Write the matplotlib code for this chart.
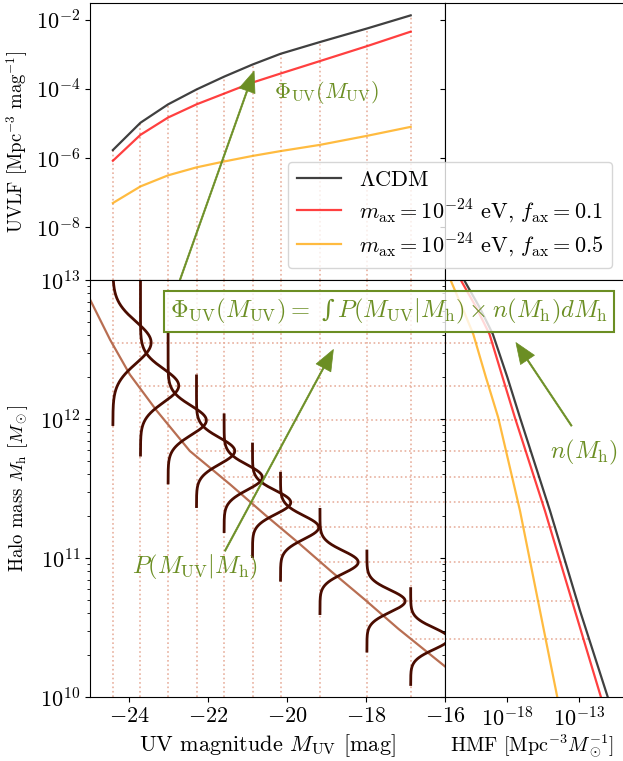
import numpy as np
import matplotlib.pyplot as plt
from matplotlib.ticker import FuncFormatter, NullLocator

plt.rcParams['font.family'] = ['cmr10', 'DejaVu Serif']
plt.rcParams['mathtext.fontset'] = 'cm'
plt.rcParams['axes.formatter.use_mathtext'] = True
plt.rcParams['font.size'] = 16

# UV magnitudes where the UVLF is evaluated (also the stems of P(M_UV|M_h))
muv_bins = [-24.42, -23.72, -23.02, -22.30, -21.60, -20.88, -20.17, -19.17, -17.98, -16.87]
# log10 UVLF [Mpc^-3 mag^-1]
log_uvlf_lcdm = [-5.77, -4.98, -4.45, -4.02, -3.65, -3.30, -2.99, -2.65, -2.26, -1.88]
log_uvlf_f01 = [-6.08, -5.33, -4.83, -4.45, -4.14, -3.82, -3.56, -3.20, -2.77, -2.35]
log_uvlf_f05 = [-7.30, -6.82, -6.50, -6.27, -6.10, -5.94, -5.80, -5.62, -5.36, -5.10]

# median M_UV - M_h relation
muv_med = [-25.0, -24.49, -23.99, -23.31, -22.47, -21.45, -20.56, -19.72, -18.87, -18.03, -17.18, -16.0]
logmh_med = [12.86, 12.57, 12.32, 12.06, 11.77, 11.53, 11.31, 11.11, 10.90, 10.70, 10.49, 10.22]

# P(M_UV|M_h) curves: peak halo mass, width (dex), extent
logmh_peak = [12.55, 12.24, 11.99, 11.77, 11.58, 11.40, 11.22, 10.97, 10.69, 10.42]
logmh_width = [0.15, 0.12, 0.105, 0.095, 0.09, 0.085, 0.085, 0.082, 0.08, 0.078]
logmh_hi = [13.2, 13.05, 12.61, 12.31, 12.03, 11.82, 11.61, 11.35, 11.05, 10.78]
logmh_lo = [11.96, 11.74, 11.54, 11.37, 11.19, 11.01, 10.84, 10.60, 10.33, 10.09]
gauss_amp = 0.97

# halo mass function
logmh_hmf = [13.01, 12.80, 12.61, 12.30, 12.01, 11.34, 10.62, 10.00]
log_hmf_lcdm = [-20.99, -19.85, -18.95, -17.95, -17.08, -15.01, -12.94, -11.03]
log_hmf_f01 = [-21.22, -20.08, -19.18, -18.28, -17.43, -15.36, -13.29, -11.50]
log_hmf_f05 = [-21.91, -21.05, -20.30, -19.43, -18.58, -17.08, -15.70, -14.51]
# where the dotted mass lines stop in the HMF panel
log_hmf_end = [-18.9, -17.9, -17.0, -16.3, -15.7, -15.1, -14.6, -13.9, -13.1, -12.4]

labels = [r'$\Lambda$CDM',
          r'$m_{\rm ax}=10^{-24}$ eV, $f_{\rm ax}=0.1$',
          r'$m_{\rm ax}=10^{-24}$ eV, $f_{\rm ax}=0.5$']
colors = ['k', 'r', 'orange']
green = 'olivedrab'
dotc = '#e8b09e'
arrow = dict(color=green, width=1.0, headwidth=12, headlength=15, lw=0.5)

fig = plt.figure(figsize=(6.23, 7.61), dpi=100)
gs = fig.add_gridspec(2, 2, width_ratios=[355, 180], height_ratios=[277, 417],
                      left=90/623, right=625/623, top=1-3/761, bottom=1-697/761,
                      hspace=0, wspace=0)
ax_uv = fig.add_subplot(gs[0, 0])
ax_tr = fig.add_subplot(gs[0, 1], sharey=ax_uv)
ax_mh = fig.add_subplot(gs[1, 0], sharex=ax_uv)
ax_hmf = fig.add_subplot(gs[1, 1], sharey=ax_mh, sharex=ax_tr)

muv = np.array(muv_bins)

# top: UVLF
for vals, c, lab in zip([log_uvlf_lcdm, log_uvlf_f01, log_uvlf_f05], colors, labels):
    ax_uv.plot(muv, 10**np.array(vals), color=c, alpha=0.75, lw=1.6, label=lab)
ax_uv.vlines(muv, 3e-10, 10**np.array(log_uvlf_lcdm), color=dotc, ls=':', lw=1.2, zorder=0)
ax_uv.set_yscale('log')
ax_uv.set_ylim(3e-10, 3e-2)
ax_uv.set_yticks([1e-8, 1e-6, 1e-4, 1e-2])
ax_uv.yaxis.set_minor_locator(NullLocator())
ax_uv.set_ylabel(r'UVLF [Mpc$^{-3}$ mag$^{-1}$]', fontsize=13.5)
ax_uv.tick_params(labelbottom=False)
ax_tr.tick_params(labelleft=False, labelbottom=False)

ax_uv.annotate('', xy=(-20.84, 10**-3.49), xytext=(-22.72, 3e-10),
               arrowprops=arrow, annotation_clip=False)
ax_uv.text(-18.99, 10**-4.1, r'$\Phi_{\rm UV}(M_{\rm UV})$', color=green,
           ha='center', va='center')

# bottom left: halo mass vs M_UV
for m in muv:
    ax_mh.axvline(m, color=dotc, ls=':', lw=1.2, zorder=0)
ax_mh.hlines(10**np.array(logmh_peak), muv, -16, color=dotc, ls=':', lw=1.2, zorder=0)
ax_mh.plot(muv_med, 10**np.array(logmh_med), color='#b86e52', lw=1.6)
for m, pk, w, hi, lo in zip(muv, logmh_peak, logmh_width, logmh_hi, logmh_lo):
    y = np.linspace(lo, hi, 400)
    x = m + gauss_amp * np.exp(-0.5 * ((y - pk) / w)**2)
    ax_mh.plot(x, 10**y, color='#4a0c00', lw=2)
ax_mh.set_yscale('log')
ax_mh.set_ylim(1e10, 1e13)
ax_mh.set_xlim(-25, -16)
ax_mh.set_xticks([-24, -22, -20, -18, -16])
ax_mh.xaxis.set_major_formatter(FuncFormatter(lambda v, p: r'$%d$' % v))
ax_mh.set_xlabel(r'UV magnitude $M_{\rm UV}$ [mag]')
ax_mh.set_ylabel(r'Halo mass $M_{\rm h}$ [$M_\odot$]', fontsize=13.5)

ax_mh.annotate('', xy=(-18.83, 10**12.50), xytext=(-21.58, 10**11.05), arrowprops=arrow)
ax_mh.text(-22.34, 10**10.93, r'$P(M_{\rm UV}|M_{\rm h})$', color=green,
           ha='center', va='center', fontsize=17.5)
box_text = (r'$\Phi_{\rm UV}(M_{\rm UV}) =$ ' + '\u222b'
            + r'$\,P(M_{\rm UV}|M_{\rm h}) \times n(M_{\rm h}) dM_{\rm h}$')
fig.text(-17.42, 10**12.773, box_text, family='DejaVu Serif',
         transform=ax_mh.transData, color=green, ha='center', va='center', fontsize=17.6,
         bbox=dict(boxstyle='square,pad=0.25', fc=(1, 1, 1, 0.8), ec=green, lw=1.5))

# bottom right: HMF
mh = 10**np.array(logmh_hmf)
for vals, c in zip([log_hmf_lcdm, log_hmf_f01, log_hmf_f05], colors):
    ax_hmf.plot(10**np.array(vals), mh, color=c, alpha=0.75, lw=1.6)
ax_hmf.hlines(10**np.array(logmh_peak), 10**-22.25, 10**np.array(log_hmf_end),
              color=dotc, ls=':', lw=1.2, zorder=0)
ax_hmf.set_xscale('log')
ax_hmf.set_xlim(10**-22.25, 10**-9.84)
ax_hmf.set_xticks([1e-18, 1e-13])
ax_hmf.xaxis.set_minor_locator(NullLocator())
ax_hmf.tick_params(labelleft=False)
ax_hmf.set_xlabel(r'HMF [Mpc$^{-3}M_\odot^{-1}$]', fontsize=14.5)
ax_hmf.xaxis.set_label_coords(0.485, -0.085)
ax_hmf.annotate('', xy=(10**-17.36, 10**12.55), xytext=(10**-13.52, 10**11.95), arrowprops=arrow)
ax_hmf.text(10**-12.67, 10**11.76, r'$n(M_{\rm h})$', color=green, ha='center', va='center',
            fontsize=17.5)

fig.legend(loc='lower right', bbox_to_anchor=(612/623, 1-268/761), borderaxespad=0,
           labelspacing=0.3)
fig.align_ylabels([ax_uv, ax_mh])

fig.savefig('out.png', dpi=100)
